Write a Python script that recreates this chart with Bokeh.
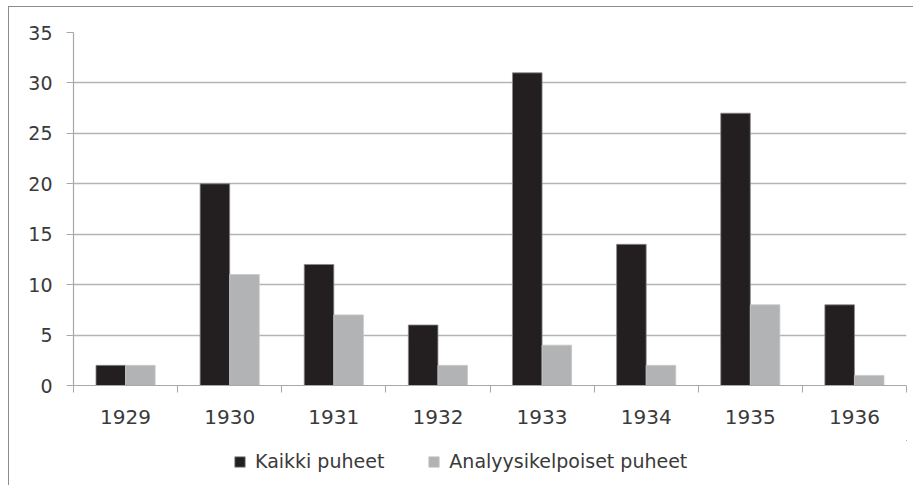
import numpy as np
from bokeh.plotting import figure
from bokeh.layouts import column
from bokeh.models import (ColumnDataSource, FixedTicker, Legend, LegendItem, Range1d)
from bokeh.transform import dodge
from bokeh.embed import file_html
from bokeh.resources import INLINE

years = ["1929", "1930", "1931", "1932", "1933", "1934", "1935", "1936"]
kaikki = [2, 20, 12, 6, 31, 14, 27, 8]
analyysi = [2, 11, 7, 2, 4, 2, 8, 1]
series_names = ["Kaikki puheet", "Analyysikelpoiset puheet"]
y_ticks = [0, 5, 10, 15, 20, 25, 30, 35]

centers = [i + 0.5 for i in range(len(years))]
bounds = list(range(len(years) + 1))

src = ColumnDataSource(dict(x=centers, kaikki=kaikki, analyysi=analyysi))

FONT = "DejaVu Sans"
TXT = "#3a3a3a"
AX = "#a8a8a8"
FRAME = "#8c8c8c"
C1, C2 = "#231f20", "#b2b3b5"
E1, E2 = "#8a8a8a", "#c8c8c8"

W = 913
p = figure(width=W, height=440, output_backend="svg", toolbar_location=None,
           x_range=Range1d(0, len(years)), y_range=Range1d(0, 35),
           min_border_left=73, min_border_right=7, min_border_top=32,
           min_border_bottom=55)
p.outline_line_color = None
p.background_fill_color = "white"
p.border_fill_alpha = 0

bw = 0.284
p.vbar(x=dodge("x", -bw / 2, range=p.x_range), top="kaikki", width=bw, source=src,
       fill_color=C1, line_color=E1, line_width=0.8)
p.vbar(x=dodge("x", bw / 2, range=p.x_range), top="analyysi", width=bw, source=src,
       fill_color=C2, line_color=E2, line_width=0.8)

# x axis
p.xaxis.ticker = FixedTicker(ticks=centers, minor_ticks=bounds)
p.xaxis.major_label_overrides = {c: y for c, y in zip(centers, years)}
p.xaxis.major_tick_out = 0
p.xaxis.major_tick_in = 0
p.xaxis.minor_tick_out = 7
p.xaxis.minor_tick_in = 0
p.xaxis.minor_tick_line_color = AX
p.xaxis.axis_line_color = AX
p.xaxis.axis_line_width = 1.2
p.xaxis.major_label_text_font = FONT
p.xaxis.major_label_text_font_size = "20px"
p.xaxis.major_label_text_color = TXT
p.xaxis.major_label_standoff = 17

# y axis
p.yaxis.ticker = FixedTicker(ticks=y_ticks)
p.yaxis.major_tick_out = 7
p.yaxis.major_tick_in = 0
p.yaxis.major_tick_line_color = AX
p.yaxis.minor_tick_line_color = None
p.yaxis.axis_line_color = AX
p.yaxis.axis_line_width = 1.2
p.yaxis.major_label_text_font = FONT
p.yaxis.major_label_text_font_size = "19px"
p.yaxis.major_label_text_color = TXT
p.yaxis.major_label_standoff = 14

p.xgrid.grid_line_color = None
p.ygrid.ticker = FixedTicker(ticks=y_ticks)
p.ygrid.grid_line_color = "#b4b4b4"
p.ygrid.grid_line_width = 1.3

# legend strip below the chart (its ranges keep the series bars out of view,
# so only the legend swatches show)
lg = figure(width=W, height=45, output_backend="svg", toolbar_location=None,
            x_range=Range1d(-3, -2), y_range=Range1d(-3, -2),
            x_axis_type=None, y_axis_type=None, min_border=0)
lg.outline_line_color = None
lg.background_fill_alpha = 0
lg.border_fill_alpha = 0
lg.grid.visible = False
l1 = lg.vbar(x="x", top="kaikki", width=bw, source=src,
             fill_color=C1, line_color=E1, line_width=0.8)
l2 = lg.vbar(x="x", top="analyysi", width=bw, source=src,
             fill_color=C2, line_color=E2, line_width=0.8)
legend = Legend(items=[LegendItem(label=series_names[0], renderers=[l1], index=0),
                       LegendItem(label=series_names[1], renderers=[l2], index=0)],
                location=(160, 13), orientation="horizontal",
                glyph_width=13, glyph_height=13, label_height=13,
                label_standoff=9, spacing=43, padding=0, margin=0,
                border_line_color=None, background_fill_alpha=0,
                label_text_font=FONT, label_text_font_size="19px",
                label_text_color=TXT)
lg.add_layout(legend, "center")

layout = column(p, lg, spacing=0)
layout.styles = {
    "background": (f"linear-gradient({FRAME},{FRAME}) 8px 6px / 1px 100% no-repeat, "
                   f"linear-gradient({FRAME},{FRAME}) 8px 6px / 100% 1px no-repeat, white")
}

open("out.html", "w").write(file_html(layout, INLINE))
